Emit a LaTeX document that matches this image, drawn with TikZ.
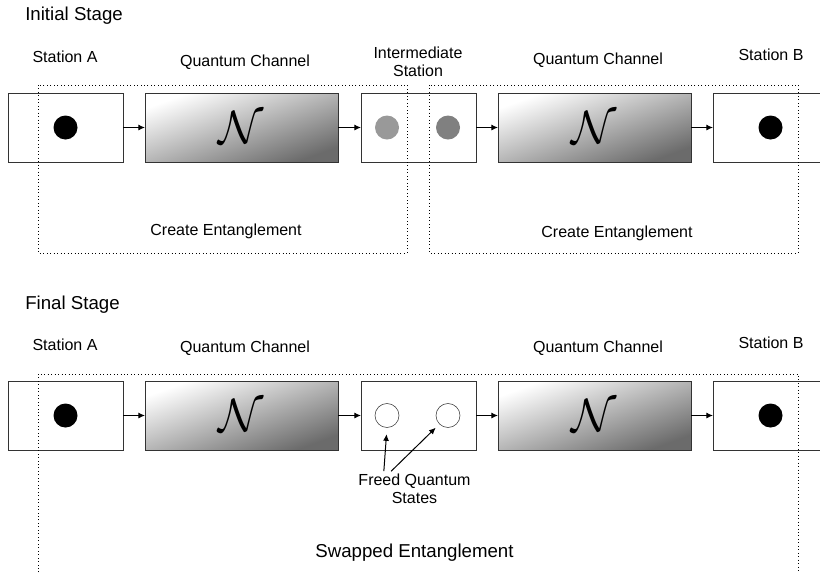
\documentclass[tikz,border=0pt]{standalone}
\usepackage{fontspec}
\setmainfont{Liberation Sans}
\usetikzlibrary{arrows.meta}
\newcommand{\qchan}{\scalebox{3.5}{$\mathcal{N}$}}
\tikzset{
	station/.style={draw=black!80, line width=0.75pt, minimum width=86.25pt, minimum height=51.75pt, inner sep=0pt, outer sep=0pt},
	channel/.style={station, minimum width=144.75pt, top color=white, bottom color=black!58, shading angle=20},
	qdot/.style={circle, minimum size=18pt, inner sep=0pt, outer sep=0pt},
	flow/.style={-{Latex[length=5pt,width=4.5pt]}, line width=0.75pt},
	zone/.style={dotted, line width=0.6pt},
	lbl/.style={font=\fontsize{12}{13.5}\selectfont, align=center},
	stage/.style={font=\fontsize{14}{16}\selectfont}
}
\begin{document}
\begin{tikzpicture}[x=0.75pt,y=-0.75pt]
					\useasboundingbox (0,0) rectangle (820,572);
					\node (init) at (25,16)[stage, anchor=west, inner sep=0pt]{Initial Stage};
					
					\node (stA1) at (65.5,127.5)[station]{};
					\node (ch1) at (241.5,127.5)[channel]{\qchan};
					\node (mid1) at (418.5,127.5)[station]{};
					\node (ch2) at (594.5,127.5)[channel]{\qchan};
					\node (stB1) at (770.5,127.5)[station]{};
					\node (dA1) at (65.5,127.5)[qdot, fill=black]{};
					\node (dM1) at (387,127.5)[qdot, fill=black!40]{};
					\node (dM2) at (448,127.5)[qdot, fill=black!50]{};
					\node (dB1) at (770.5,127.5)[qdot, fill=black]{};
					\draw[flow](stA1)--(ch1);
					\draw[flow](ch1)--(mid1);
					\draw[flow](mid1)--(ch2);
					\draw[flow](ch2)--(stB1);
					\draw[zone](38,85) rectangle (407,253);
					\draw[zone](429,85) rectangle (798,253);
					
					\node at (65,57)[lbl]{Station A};
					\node at (245,62)[lbl]{Quantum Channel};
					\node at (418,62)[lbl]{Intermediate\\Station};
					\node at (598,60)[lbl]{Quantum Channel};
					\node at (771,55)[lbl]{Station B};
					\node at (226,231)[lbl]{Create Entanglement};
					\node at (617,233)[lbl]{Create Entanglement};
					
					\node (final) at (25,305)[stage, anchor=west, inner sep=0pt]{Final Stage};
					
					\node (stA2) at (65.5,415.5)[station]{};
					\node (ch3) at (241.5,415.5)[channel]{\qchan};
					\node (mid2) at (418.5,415.5)[station]{};
					\node (ch4) at (594.5,415.5)[channel]{\qchan};
					\node (stB2) at (770.5,415.5)[station]{};
					\node (dA2) at (65.5,415.5)[qdot, fill=black]{};
					\node (fq1) at (387,415.5)[qdot, draw=black!80, fill=white]{};
					\node (fq2) at (448,415.5)[qdot, draw=black!80, fill=white]{};
					\node (dB2) at (770.5,415.5)[qdot, fill=black]{};
					\draw[flow](stA2)--(ch3);
					\draw[flow](ch3)--(mid2);
					\draw[flow](mid2)--(ch4);
					\draw[flow](ch4)--(stB2);
					\draw[zone](38,600)--(38,374)--(798,374)--(798,600);
					
					\node at (65,345)[lbl]{Station A};
					\node at (245,348)[lbl]{Quantum Channel};
					\node at (598,348)[lbl]{Quantum Channel};
					\node at (771,343)[lbl]{Station B};
					\node (freed) at (414.5,489)[lbl, inner sep=2pt]{Freed Quantum\\States};
					\draw[flow, shorten >=5pt]([xshift=-23pt]freed.north)--(fq1.south);
					\draw[flow, shorten >=4pt]([xshift=-17.5pt]freed.north)--(fq2.south west);
					\node at (414.5,553)[stage]{Swapped Entanglement};
				\end{tikzpicture}
\end{document}
